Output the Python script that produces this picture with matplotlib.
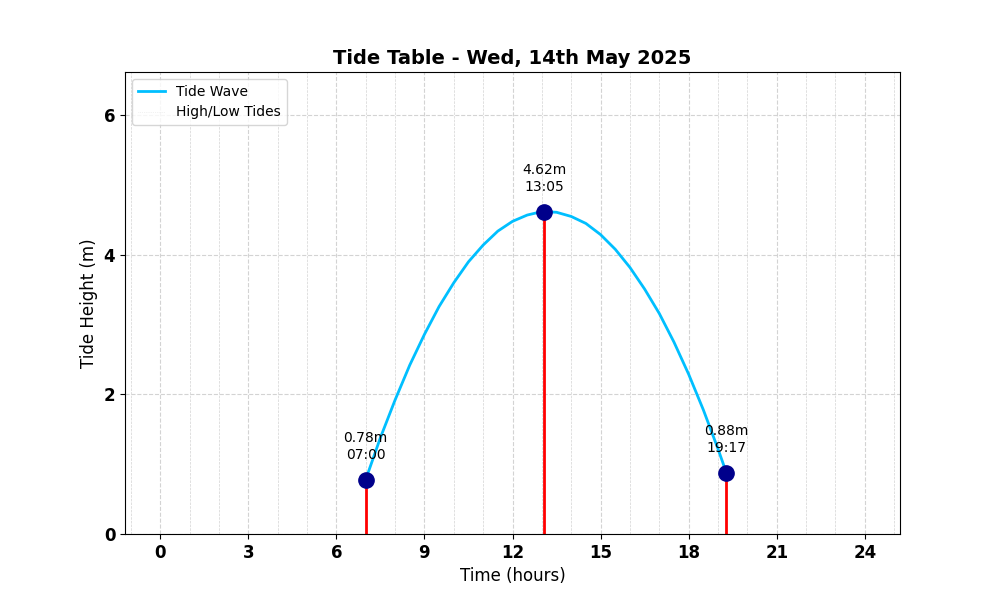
"""tide table chart for wed 14th may 2025"""

import numpy as np
import matplotlib
matplotlib.use("Agg")
import matplotlib.pyplot as plt
from matplotlib.ticker import MultipleLocator

# high/low tides: time in hours, height in m, label
tide_hours = [7.0, 13 + 5 / 60, 19 + 17 / 60]
tide_heights = [0.78, 4.62, 0.88]
tide_labels = ["07:00", "13:05", "19:17"]

# tide wave, every half hour
wave_hours = [7.0, 7.5, 8.0, 8.5, 9.0, 9.5, 10.0, 10.5, 11.0, 11.5, 12.0,
              12.5, 13.0, 13.5, 14.0, 14.5, 15.0, 15.5, 16.0, 16.5, 17.0,
              17.5, 18.0, 18.5, 19.0, 19 + 17 / 60]
wave_heights = [0.78, 1.38, 1.92, 2.42, 2.86, 3.26, 3.60, 3.90, 4.14, 4.34,
                4.48, 4.57, 4.62, 4.61, 4.55, 4.45, 4.29, 4.08, 3.82, 3.51,
                3.16, 2.75, 2.29, 1.78, 1.22, 0.88]

day_span = [0, 24]

fig, ax = plt.subplots(figsize=(10, 6), dpi=100)

ax.plot(wave_hours, wave_heights, color="deepskyblue", lw=2, label="Tide Wave")
# faint line over the whole day, only for the legend entry
ax.plot(day_span, [0, 0], color="lightgray", lw=0.5, ls=":", alpha=0.6,
        label="High/Low Tides")

for t, h, lab in zip(tide_hours, tide_heights, tide_labels):
    ax.vlines(t, 0, h, color="red", lw=2)
    ax.plot(t, h, "o", color="darkblue", ms=11, zorder=5)
    ax.annotate(f"{h:.2f}m\n{lab}", (t, h), xytext=(0, 13),
                textcoords="offset points", ha="center", va="bottom",
                fontsize=10)

ax.set_ylim(0, max(tide_heights) + 2)
ax.xaxis.set_major_locator(MultipleLocator(3))
ax.xaxis.set_minor_locator(MultipleLocator(1))
ax.yaxis.set_major_locator(MultipleLocator(2))
ax.grid(which="major", ls="--", color="lightgray", lw=0.8)
ax.grid(which="minor", axis="x", ls="--", color="lightgray", lw=0.5)
ax.tick_params(which="minor", length=0)

for lbl in ax.get_xticklabels() + ax.get_yticklabels():
    lbl.set_fontweight("bold")
    lbl.set_fontsize(12)

ax.set_title("Tide Table - Wed, 14th May 2025", fontsize=14, fontweight="bold")
ax.set_xlabel("Time (hours)", fontsize=12)
ax.set_ylabel("Tide Height (m)", fontsize=12)
ax.legend(loc="upper left")

plt.savefig("out.png")
